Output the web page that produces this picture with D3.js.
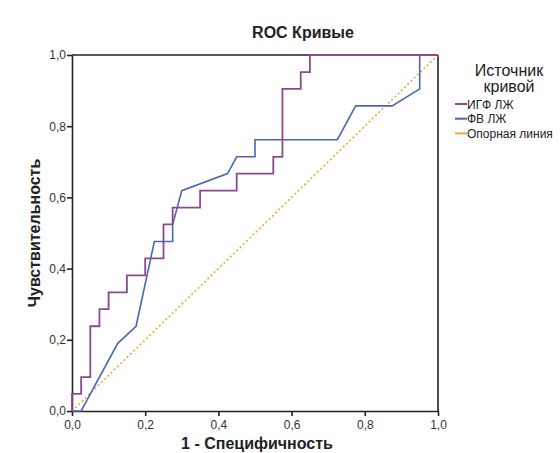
<!DOCTYPE html>
<html>
<head>
<meta charset="utf-8">
<script src="https://cdn.jsdelivr.net/npm/d3@7"></script>
<style>
  body { margin: 0; background: #fff; }
  text { font-family: "Liberation Sans", Arial, sans-serif; }
</style>
</head>
<body>
<svg id="chart" width="560" height="453"></svg>
<script>
(function () {
  'use strict';

  // ИГФ ЛЖ - ступенчатая ROC кривая
  var igfFpr = [0, 0, 0.025, 0.025, 0.05, 0.05, 0.075, 0.075, 0.1, 0.1, 0.15, 0.15, 0.2, 0.2, 0.25, 0.25,
    0.275, 0.275, 0.35, 0.35, 0.45, 0.45, 0.55, 0.55, 0.575, 0.575, 0.625, 0.625, 0.65, 0.65, 1];
  var igfTpr = [0, 0.048, 0.048, 0.095, 0.095, 0.238, 0.238, 0.286, 0.286, 0.333, 0.333, 0.381, 0.381, 0.429, 0.429, 0.524,
    0.524, 0.571, 0.571, 0.619, 0.619, 0.667, 0.667, 0.714, 0.714, 0.905, 0.905, 0.952, 0.952, 1, 1];

  // ФВ ЛЖ
  var fvFpr = [0, 0.025, 0.125, 0.175, 0.225, 0.275, 0.275, 0.3, 0.425, 0.45, 0.5, 0.5, 0.725, 0.775, 0.875, 0.95, 0.95, 1];
  var fvTpr = [0, 0, 0.19, 0.238, 0.476, 0.476, 0.524, 0.619, 0.667, 0.714, 0.714, 0.762, 0.762, 0.857, 0.857, 0.905, 1, 1];

  // опорная линия
  var refFpr = [0, 1];
  var refTpr = [0, 1];

  var seriesNames = ["ИГФ ЛЖ", "ФВ ЛЖ", "Опорная линия"];
  var seriesColors = ["#8b4a8f", "#4a67b5", "#f3a33a"];
  var tickValues = [0, 0.2, 0.4, 0.6, 0.8, 1.0];

  var margin = { top: 55, left: 72, right: 122, bottom: 42 };
  var width = 560 - margin.left - margin.right;
  var height = 453 - margin.top - margin.bottom;

  var svg = d3.select("#chart");
  var g = svg.append("g").attr("transform", "translate(" + margin.left + "," + margin.top + ")");

  var x = d3.scaleLinear().domain([0, 1]).range([0, width]);
  var y = d3.scaleLinear().domain([0, 1]).range([height, 0]);

  var fmt = function (d) { return d3.format(".1f")(d).replace(".", ","); };

  // оси
  var xAxis = g.append("g")
    .attr("transform", "translate(0," + height + ")")
    .call(d3.axisBottom(x).tickValues(tickValues).tickFormat(fmt).tickSize(5).tickSizeOuter(0));
  var yAxis = g.append("g")
    .call(d3.axisLeft(y).tickValues(tickValues).tickFormat(fmt).tickSize(5).tickSizeOuter(0));

  [xAxis, yAxis].forEach(function (a) {
    a.selectAll(".domain").attr("stroke", "#222").attr("stroke-width", 1.6);
    a.selectAll(".tick line").attr("stroke", "#222").attr("stroke-width", 1.6);
    a.selectAll(".tick text").attr("fill", "#333").style("font-size", "12px");
  });
  xAxis.selectAll(".tick text").attr("dy", "0.85em");
  yAxis.selectAll(".tick text").attr("x", -6);

  // рамка сверху и справа
  g.append("line").attr("x1", 0).attr("x2", width).attr("y1", 0).attr("y2", 0)
    .attr("stroke", "#222").attr("stroke-width", 1.6);
  g.append("line").attr("x1", width).attr("x2", width).attr("y1", 0).attr("y2", height)
    .attr("stroke", "#222").attr("stroke-width", 1.6);

  var line = d3.line()
    .x(function (d) { return x(d[0]); })
    .y(function (d) { return y(d[1]); });

  var curves = [
    { fpr: refFpr, tpr: refTpr, color: seriesColors[2], dash: "2,2.5", w: 1.6 },
    { fpr: fvFpr, tpr: fvTpr, color: seriesColors[1], dash: null, w: 1.6 },
    { fpr: igfFpr, tpr: igfTpr, color: seriesColors[0], dash: null, w: 1.8 }
  ];

  curves.forEach(function (c) {
    var pts = d3.zip(c.fpr, c.tpr);
    g.append("path")
      .attr("d", line(pts))
      .attr("fill", "none")
      .attr("stroke", c.color)
      .attr("stroke-width", c.w)
      .attr("stroke-dasharray", c.dash);
  });

  // заголовок и подписи осей
  svg.append("text")
    .attr("x", 303).attr("y", 38)
    .attr("text-anchor", "middle")
    .style("font-size", "16px").style("font-weight", "bold").attr("fill", "#222")
    .text("ROC Кривые");

  svg.append("text")
    .attr("x", margin.left + width / 2 + 2).attr("y", 449)
    .attr("text-anchor", "middle")
    .style("font-size", "16px").style("font-weight", "bold").attr("fill", "#222")
    .text("1 - Специфичность");

  svg.append("text")
    .attr("transform", "translate(40," + (margin.top + height / 2) + ") rotate(-90)")
    .attr("text-anchor", "middle")
    .style("font-size", "16px").style("font-weight", "bold").attr("fill", "#222")
    .text("Чувствительность");

  // легенда
  var legend = svg.append("g").attr("transform", "translate(455,0)");
  legend.append("text").attr("x", 54).attr("y", 76).attr("text-anchor", "middle")
    .style("font-size", "16px").attr("fill", "#222").text("Источник");
  legend.append("text").attr("x", 54).attr("y", 92).attr("text-anchor", "middle")
    .style("font-size", "16px").attr("fill", "#222").text("кривой");

  seriesNames.forEach(function (name, i) {
    var yy = 104 + i * 14.7;
    legend.append("line").attr("x1", 0).attr("x2", 12).attr("y1", yy).attr("y2", yy)
      .attr("stroke", seriesColors[i]).attr("stroke-width", 2);
    legend.append("text").attr("x", 12).attr("y", yy + 4.5)
      .style("font-size", "12px").attr("fill", "#222").text(name);
  });
}());
</script>
</body>
</html>
